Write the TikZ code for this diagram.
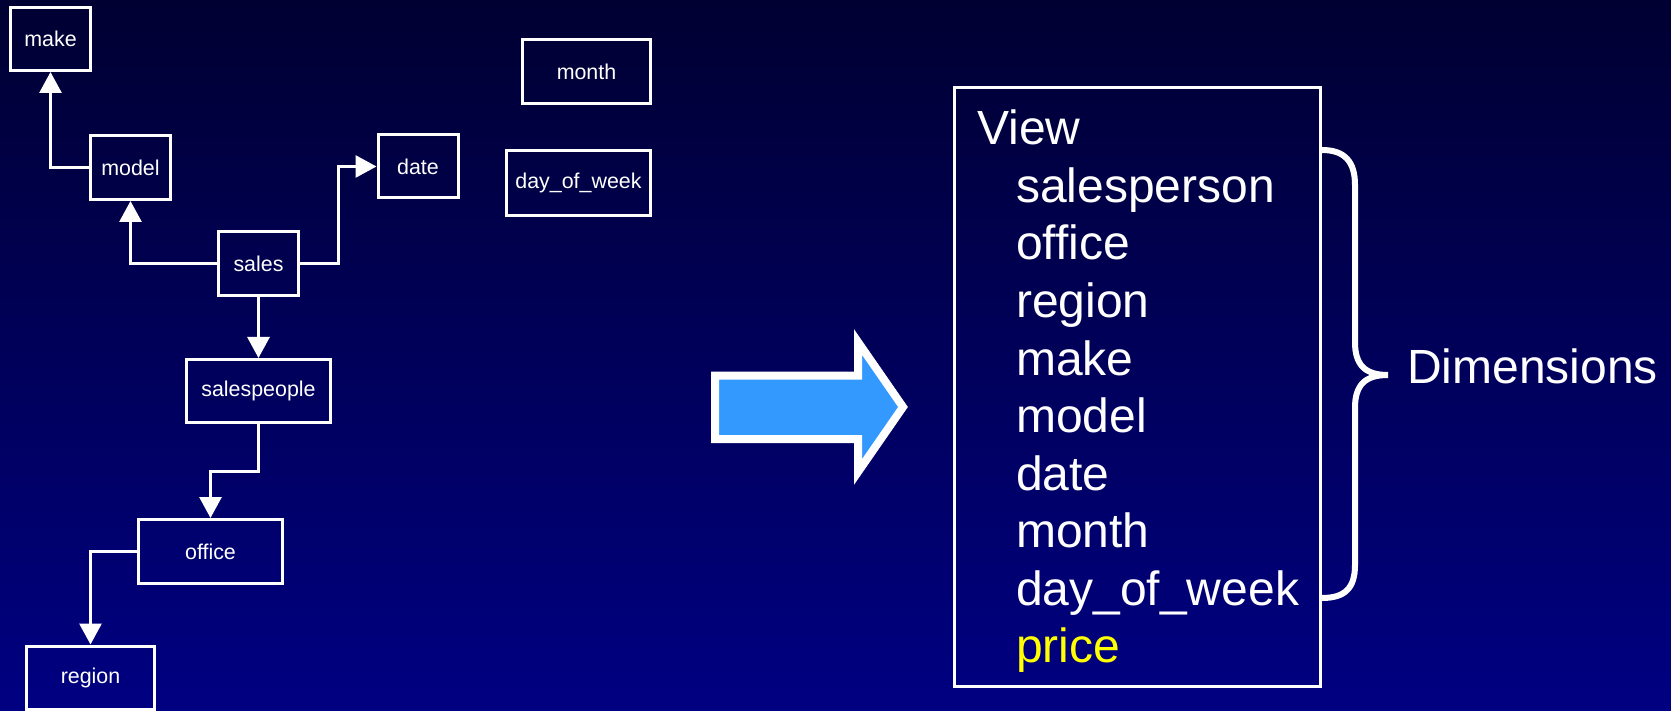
\documentclass[tikz,border=0pt]{standalone}
\usepackage{fontspec}
\setmainfont{Liberation Sans}
\usetikzlibrary{arrows.meta}
\definecolor{bgtop}{RGB}{0,0,50}
\definecolor{bgbot}{RGB}{0,0,130}
\definecolor{arrowblue}{RGB}{51,153,255}
\definecolor{priceyellow}{RGB}{255,255,0}
\begin{document}
\begin{tikzpicture}[x=1pt,y=-1pt,
  box/.style={draw=white,line width=3pt,inner sep=0pt,text=white,font=\fontsize{21.4}{25}\selectfont},
  arr/.style={draw=white,line width=3pt,-{Triangle[width=22pt,length=21pt]}},
  big/.style={text=white,font=\fontsize{48}{57}\selectfont,anchor=base west,inner sep=0pt},
  brace/.style={draw=white,line width=6pt,line cap=round}]
\useasboundingbox (0,0) rectangle (1671,711);
\shade[top color=bgtop,bottom color=bgbot] (0,0) rectangle (1671,711);

% left diagram
\node[box,minimum width=80pt,minimum height=63pt] (make) at (50.5,39) {make};
\node[box,minimum width=80pt,minimum height=64pt] (model) at (130.5,167.5) {model};
\node[box,minimum width=80pt,minimum height=64pt] (sales) at (258.5,263.5) {sales};
\node[box,minimum width=80pt,minimum height=63pt] (date) at (418,166.5) {date};
\node[box,minimum width=128pt,minimum height=64pt] (month) at (586.5,71.5) {month};
\node[box,minimum width=144pt,minimum height=65pt] (dow) at (578.5,183) {day\_of\_week};
\node[box,minimum width=144pt,minimum height=63pt] (salespeople) at (258.5,391) {salespeople};
\node[box,minimum width=144pt,minimum height=64pt] (office) at (210.5,551.5) {office};
\node[box,minimum width=128pt,minimum height=63pt] (region) at (90.5,677.5) {region};

\draw[arr] (model.west) -| (make.south);
\draw[arr] (sales.west) -| (model.south);
\draw[arr] (sales.east) -- ++(38,0) |- (date.west);
\draw[arr] (sales.south) -- (salespeople.north);
\draw[arr] (salespeople.south) -- ++(0,47) -| (office.north);
\draw[arr] (office.west) -| (region.north);

% big arrow
\draw[line width=8pt,draw=white,fill=arrowblue,line join=miter]
  (715,375.5) -- (858,375.5) -- (858,342) -- (903,407) -- (858,472) -- (858,439) -- (715,439) -- cycle;

% view box
\node[draw=white,line width=3pt,minimum width=366pt,minimum height=599pt,inner sep=0pt] (view) at (1137.5,387) {};
\node[big] (v0) at (977,145) {View};
\node[big] (v1) at (1016,202.5) {salesperson};
\node[big] (v2) at (1016,260) {office};
\node[big] (v3) at (1016,317.5) {region};
\node[big] (v4) at (1016,375) {make};
\node[big] (v5) at (1016,432.5) {model};
\node[big] (v6) at (1016,490) {date};
\node[big] (v7) at (1016,547.5) {month};
\node[big] (v8) at (1016,605) {day\_of\_week};
\node[big,text=priceyellow] (v9) at (1016,662.5) {price};

% brace
\draw[brace] (1322,150) .. controls (1345,150) and (1355,162) .. (1355,185)
  -- (1355,342) .. controls (1355,365) and (1365,375) .. (1388,375)
  .. controls (1365,375) and (1355,385) .. (1355,408)
  -- (1355,565) .. controls (1355,588) and (1345,598) .. (1322,598);
\node[big] (dim) at (1407,383) {Dimensions};
\end{tikzpicture}
\end{document}
